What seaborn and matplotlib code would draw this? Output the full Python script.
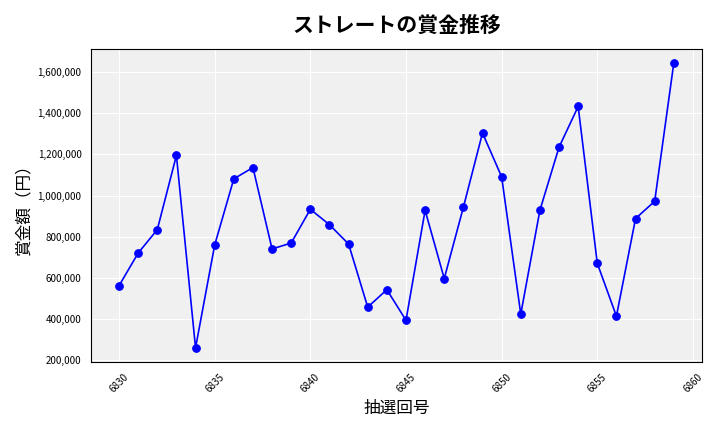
import matplotlib
matplotlib.use("Agg")
import matplotlib.pyplot as plt
import seaborn as sns
from matplotlib.ticker import FuncFormatter

draws = list(range(6830, 6860))
prizes = [561000, 720000, 834000, 1195000, 259000, 759000, 1081000, 1136000, 740000, 769000,
          933000, 858000, 764000, 457000, 542000, 393000, 928000, 596000, 943000, 1304000,
          1091000, 423000, 928000, 1235000, 1433000, 670000, 413000, 888000, 972000, 1645000]

sns.set_style("darkgrid", {"axes.facecolor": "#f0f0f0", "grid.color": "white",
                           "text.color": "black", "axes.labelcolor": "black",
                           "xtick.color": "black", "ytick.color": "black"})
plt.rcParams["font.family"] = ["Noto Sans CJK JP", "DejaVu Sans"]

fig, ax = plt.subplots(figsize=(7.2, 4.32), dpi=100)
sns.lineplot(x=draws, y=prizes, ax=ax, color="blue", marker="o", markersize=5.5,
             markeredgecolor="blue", linewidth=1.2)
ax.set_title("ストレートの賞金推移", fontsize=15, fontweight="bold", pad=12)
ax.set_xlabel("抽選回号", fontsize=12)
ax.set_ylabel("賞金額（円）", fontsize=12)
ax.yaxis.set_major_formatter(FuncFormatter(lambda v, p: f"{int(v):,}"))
ax.tick_params(axis="x", labelrotation=45, labelsize=7)
ax.tick_params(axis="y", labelsize=7)
for s in ax.spines.values():
    s.set_visible(True)
    s.set_color("black")
    s.set_linewidth(0.8)
plt.tight_layout()
plt.savefig("out.png", dpi=100)
